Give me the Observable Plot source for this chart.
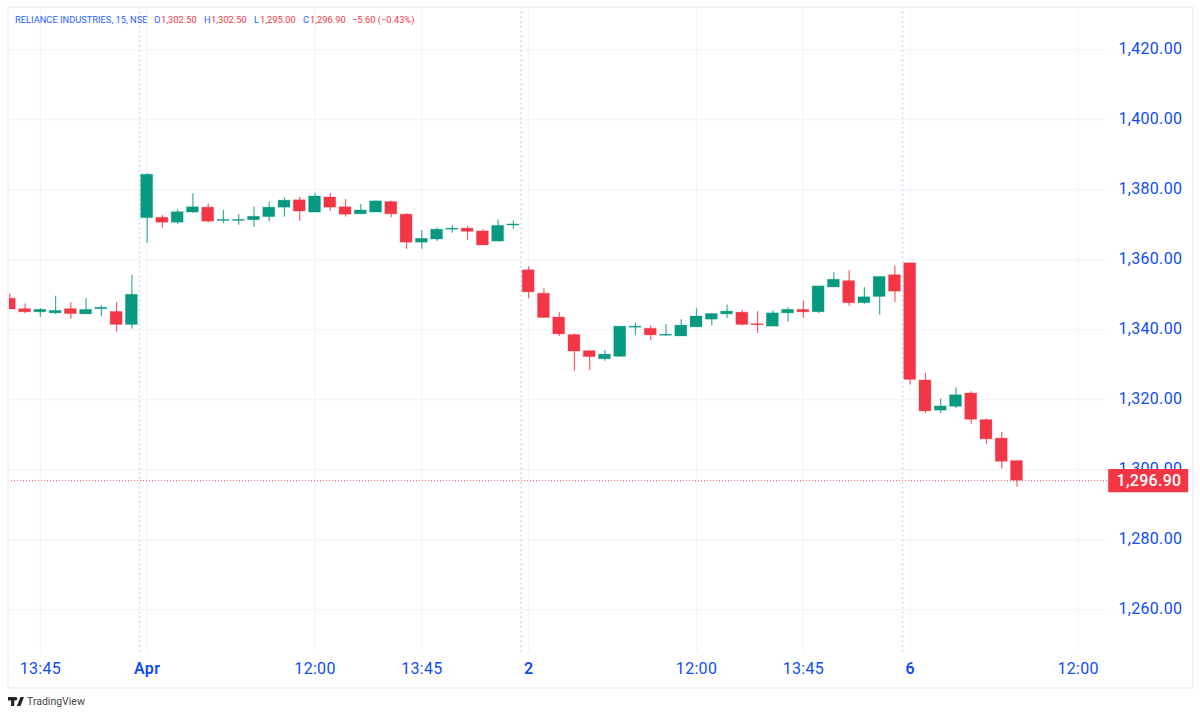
<!DOCTYPE html>
<html>
<head>
<meta charset="utf-8">
<script src="https://cdn.jsdelivr.net/npm/d3@7"></script>
<script src="https://cdn.jsdelivr.net/npm/@observablehq/plot@0.6"></script>
<style>
html,body{margin:0;padding:0;background:#fff;width:1200px;height:716px;overflow:hidden}
#wrap{position:relative;width:1200px;height:716px}
#border{position:absolute;left:7px;top:6px;width:1183px;height:679px;border:2px solid #f0f3fa;pointer-events:none}
#head{position:absolute;left:0;top:14px;height:12px;font:9.3px/12px Roboto,sans-serif;white-space:nowrap}
#head span{position:absolute;top:0}
.b{color:#2962ff}.r{color:#f23645}
#foot{position:absolute;left:8px;top:695px;height:13px;display:flex;align-items:center;gap:3px;font:10.5px/13px Roboto,sans-serif;color:#444}
svg text{letter-spacing:.3px}
</style>
</head>
<body>
<div id="wrap">
<div id="chart"></div>
<div id="border"></div>
<div id="head">
<span class="b" style="left:15px">RELIANCE INDUSTRIES, 15, NSE</span>
<span class="b" style="left:154px">O</span><span class="r" style="left:161px">1,302.50</span>
<span class="b" style="left:204px">H</span><span class="r" style="left:211px">1,302.50</span>
<span class="b" style="left:254px">L</span><span class="r" style="left:260px">1,295.00</span>
<span class="b" style="left:303px">C</span><span class="r" style="left:310px">1,296.90</span>
<span class="r" style="left:352px">−5.60 (−0.43%)</span>
</div>
<div id="foot">
<svg width="16" height="9" viewBox="0 0 36 20"><path fill="#222" d="M14 20H7V8H0V0h14zM28 20h-8L28 0h8zM17 0a4 4 0 1 1 0 8 4 4 0 0 1 0-8z"/></svg>
<span>TradingView</span>
</div>
</div>
<script>
const opens = [1348.9,1345.9,1345.0,1344.7,1345.9,1344.4,1345.9,1345.1,1341.4,1371.9,1372.0,1370.6,1373.5,1374.9,1371.1,1371.1,1371.3,1372.2,1374.9,1377.0,1373.5,1377.8,1375.0,1373.0,1373.5,1376.5,1372.9,1364.9,1365.8,1368.6,1368.9,1368.1,1365.2,1369.8,1357.0,1350.3,1343.5,1338.5,1333.9,1331.6,1332.3,1340.6,1340.3,1338.3,1338.1,1340.7,1342.9,1344.4,1344.9,1341.6,1340.9,1344.7,1345.7,1345.0,1352.1,1353.9,1347.6,1349.4,1355.6,1359.0,1325.5,1316.9,1318.0,1321.8,1314.2,1308.9,1302.5];
const closes = [1345.8,1345.0,1345.7,1345.4,1344.5,1345.7,1346.3,1341.4,1350.0,1384.3,1370.6,1373.6,1375.0,1370.9,1371.4,1371.4,1372.3,1374.9,1376.9,1373.8,1378.1,1374.9,1372.9,1374.1,1376.7,1373.0,1364.9,1366.0,1368.6,1368.9,1368.0,1364.1,1369.7,1370.1,1350.7,1343.4,1338.7,1333.8,1332.2,1332.9,1340.9,1340.9,1338.4,1338.6,1341.2,1343.8,1344.5,1345.2,1341.4,1341.3,1344.7,1345.7,1345.0,1352.4,1354.3,1347.6,1349.3,1355.1,1350.9,1325.7,1316.7,1318.1,1321.3,1314.3,1308.7,1302.3,1296.9];
const highs = [1350.2,1347.4,1346.1,1349.6,1347.7,1348.9,1346.9,1347.7,1355.6,1384.6,1372.7,1374.3,1378.9,1376.0,1374.1,1372.9,1375.0,1376.5,1377.6,1377.9,1379.0,1379.0,1377.2,1375.8,1376.7,1376.7,1373.2,1368.4,1369.1,1369.8,1369.5,1368.6,1371.4,1371.1,1358.0,1351.7,1344.9,1338.9,1333.9,1334.1,1340.9,1341.8,1341.1,1341.5,1342.9,1346.0,1344.5,1347.1,1345.6,1345.2,1345.4,1346.3,1348.2,1352.4,1356.3,1356.9,1352.0,1355.1,1358.2,1359.0,1327.6,1320.2,1323.4,1322.3,1314.5,1310.7,1302.5];
const lows = [1345.8,1344.6,1343.6,1344.4,1343.0,1344.4,1343.9,1339.3,1340.2,1364.7,1368.9,1370.1,1373.3,1370.5,1370.3,1369.9,1369.3,1370.9,1372.2,1371.0,1373.5,1373.9,1372.2,1373.0,1373.5,1372.0,1363.0,1363.0,1365.2,1367.6,1365.6,1364.1,1365.2,1368.7,1348.9,1343.2,1338.1,1328.2,1328.4,1331.0,1332.1,1338.4,1336.9,1338.1,1338.1,1340.7,1341.1,1343.2,1341.1,1338.9,1340.9,1342.2,1343.2,1344.7,1352.1,1346.7,1347.3,1344.2,1347.8,1324.2,1316.1,1316.1,1317.5,1313.0,1307.2,1300.2,1295.0];
const priceTicks = [1260,1280,1300,1320,1340,1360,1380,1400,1420];
const timeTicks = [2,20,27,45,52,70];
const timeLabels = ["13:45","12:00","13:45","12:00","13:45","12:00"];
const dayTicks = [9,34,59];
const dayLabels = ["Apr","2","6"];
const sessionBreaks = [8.5,33.5,58.5];
const lastPrice = 1296.90;

const UP = "#089981", DOWN = "#f23645", GRID = "#f2f3f8", AXIS = "#0f4df0";
const FONT = "Roboto, sans-serif";
const candles = opens.map((o,i)=>({i,o,c:closes[i],h:highs[i],l:lows[i],col:closes[i]>=o?UP:DOWN}));
const half = 0.39;

const chart = Plot.plot({
  width:1200, height:716,
  marginLeft:8, marginRight:93, marginTop:7, marginBottom:64,
  style:{fontFamily:FONT, background:"transparent"},
  x:{domain:[-0.085,71.93], axis:null},
  y:{domain:[1247.8,1432.09], axis:null},
  marks:[
    Plot.gridY(priceTicks,{stroke:GRID,strokeOpacity:1}),
    Plot.gridX([...timeTicks,...dayTicks],{stroke:GRID,strokeOpacity:1}),
    Plot.ruleX(sessionBreaks,{stroke:"#c3d1fb",strokeWidth:1.5,strokeDasharray:"1.5 3.3"}),
    Plot.ruleY([lastPrice],{stroke:DOWN,strokeWidth:1,strokeDasharray:"1 2",strokeOpacity:0.85}),
    Plot.ruleX(candles,{x:"i",y1:"l",y2:"h",stroke:"col",strokeWidth:1.2,strokeOpacity:0.8,clip:true}),
    Plot.rect(candles,{x1:d=>d.i-half,x2:d=>d.i+half,y1:"o",y2:"c",fill:"col",stroke:"col",strokeOpacity:0.3,strokeWidth:1,clip:true}),
    Plot.axisY(priceTicks,{anchor:"right",label:null,tickSize:0,tickPadding:11,dy:-1,tickFormat:d=>d3.format(",.2f")(d),fontSize:16,fill:AXIS,textAnchor:"start",fontFamily:FONT}),
    Plot.axisX(timeTicks,{anchor:"bottom",label:null,tickSize:0,tickPadding:10,tickFormat:d=>timeLabels[timeTicks.indexOf(d)],fontSize:16,fill:AXIS,fontFamily:FONT}),
    Plot.axisX(dayTicks,{anchor:"bottom",label:null,tickSize:0,tickPadding:10,tickFormat:d=>dayLabels[dayTicks.indexOf(d)],fontSize:16,fontWeight:600,fill:AXIS,fontFamily:FONT}),
    Plot.dot([lastPrice],{y:d=>d,frameAnchor:"right",dx:40.7,symbol:{draw(ctx){ctx.rect(-40,-11.7,80,23.4);}},fill:DOWN,stroke:null}),
    Plot.text([lastPrice],{y:d=>d,frameAnchor:"right",dx:74,text:d=>d3.format(",.2f")(d),fill:"#fff",fontSize:16,textAnchor:"end",fontWeight:500,fontFamily:FONT})
  ]
});
document.getElementById("chart").appendChild(chart);
</script>
</body>
</html>
